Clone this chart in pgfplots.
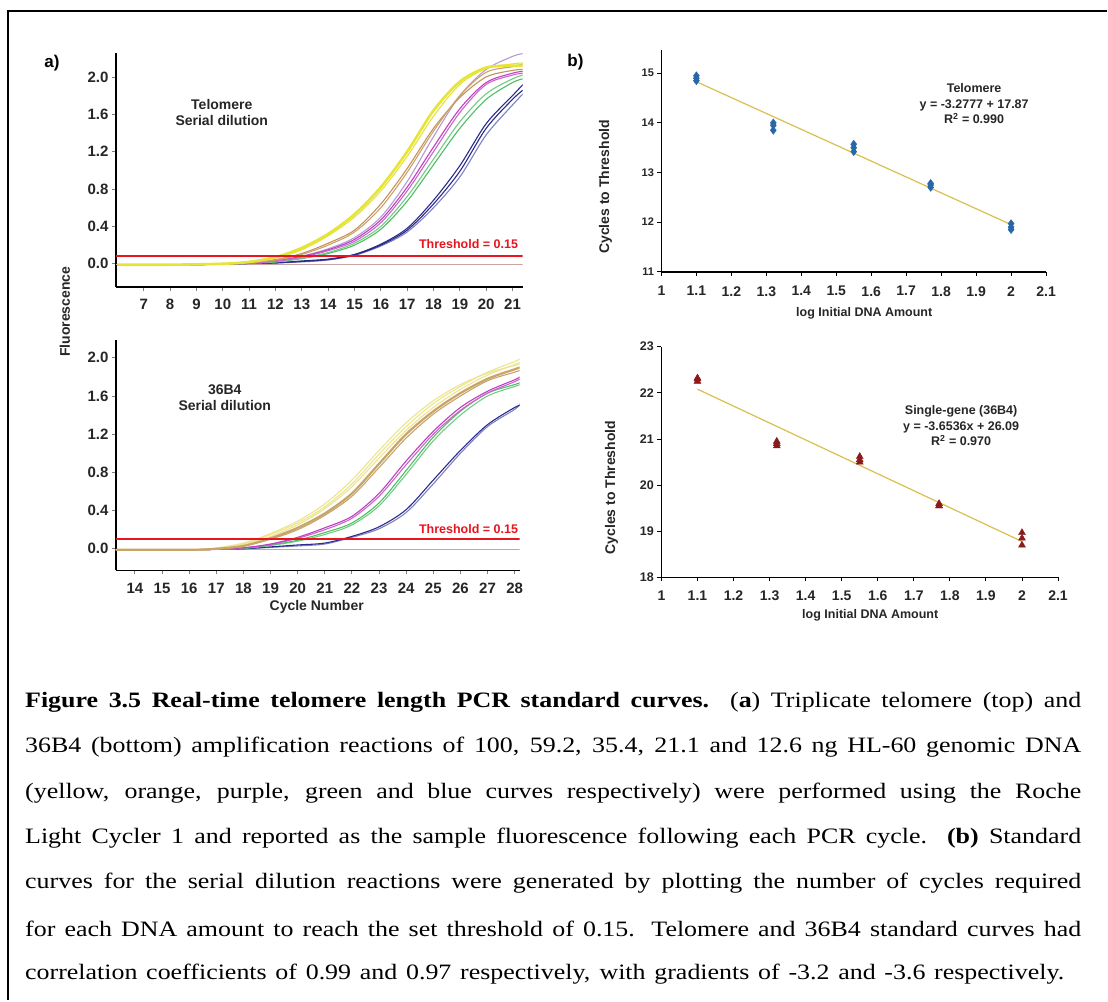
\documentclass[border=0pt]{standalone}
\usepackage{fontspec}
\setmainfont{Liberation Serif}
\newfontfamily\capfont[FakeStretch=1.18]{Liberation Serif}
\newfontfamily\arial{Liberation Sans}
\usepackage{pgfplots}
\pgfplotsset{compat=1.18}
\definecolor{ylw}{HTML}{E6E436}
\definecolor{ylwlt}{HTML}{EDE58E}
\definecolor{org}{HTML}{C8915A}
\definecolor{orglt}{HTML}{C9A468}
\definecolor{pur}{HTML}{BE3FC0}
\definecolor{lav}{HTML}{B89AD6}
\definecolor{grn}{HTML}{4DC064}
\definecolor{blu}{HTML}{2B2B8C}
\definecolor{blult}{HTML}{7F80C2}
\definecolor{thr}{HTML}{E8141E}
\definecolor{base}{HTML}{C9A3A3}
\definecolor{dia}{HTML}{2867A8}
\definecolor{tri}{HTML}{8B1A1A}
\definecolor{fit}{HTML}{D9C04E}
\pgfplotsset{
  panel/.style={
    scale only axis,
    axis lines*=left,
    axis line style={line width=1.8pt,-},
    tick align=outside,
    major tick length=4pt,
    /pgf/number format/assume math mode=true,
  },
  leftpanel/.style={
    panel,
    tick style={gray,line width=0.8pt},
    ytick={0,0.4,0.8,1.2,1.6,2.0},
    yticklabel style={/pgf/number format/.cd,fixed,fixed zerofill,precision=1},
    xticklabel style={yshift=-5pt},
    tick label style={font=\arial\bfseries\fontsize{15}{15}\selectfont, text=black!85},
  },
  rightpanel/.style={
    panel,
    tick style={black,line width=0.9pt},
    xtick={1,1.1,1.2,1.3,1.4,1.5,1.6,1.7,1.8,1.9,2,2.1},
    xmin=1, xmax=2.1,
    xticklabel style={yshift=-7pt, font=\arial\bfseries\fontsize{14}{14}\selectfont, text=black!85},
  },
  cv/.style={smooth, line width=1.1pt},
}
\tikzset{lbl/.style={font=\arial\bfseries\fontsize{14}{16}\selectfont, text=black!85, align=center},
  ann/.style={font=\arial\bfseries\fontsize{12.5}{15.5}\selectfont, text=black!85, align=center},
  captxt/.style={anchor=west, inner sep=0pt, font=\capfont\fontsize{22}{22}\selectfont}}
\begin{document}
\begin{tikzpicture}[x=1pt,y=1pt]
\fill[white] (0,0) rectangle (1108,1001);
\draw[line width=2pt] (8,0) -- (8,990) -- (1108,990);

% a) telomere amplification
\begin{axis}[leftpanel, at={(116pt,714pt)}, anchor=south west, width=407pt, height=234pt,
  xmin=5.94, xmax=21.38, ymin=-0.246, ymax=2.257, xtick={7,...,21}]
\addplot[base, line width=1pt] coordinates {(5.94,-0.01)(21.38,-0.01)};
\addplot[cv, blult] coordinates {(6,-0.01)(8,-0.01)(10,-0.005)(11,0.003)(12,0.008)(13,0.02)(14,0.04)(15,0.09)(16,0.19)(17,0.34)(18,0.6)(19,0.93)(20,1.38)(21,1.7)(21.4,1.82)};
\addplot[cv, blu] coordinates {(6,-0.01)(8,-0.01)(10,-0.005)(11,0.004)(12,0.01)(13,0.025)(14,0.045)(15,0.095)(16,0.2)(17,0.36)(18,0.64)(19,0.99)(20,1.45)(21,1.76)(21.4,1.86)};
\addplot[cv, blu] coordinates {(6,-0.01)(8,-0.01)(10,-0.005)(11,0.004)(12,0.01)(13,0.03)(14,0.05)(15,0.1)(16,0.21)(17,0.38)(18,0.68)(19,1.05)(20,1.5)(21,1.8)(21.4,1.92)};
\addplot[cv, grn] coordinates {(6,-0.01)(8,-0.01)(10,-0.005)(11,0.006)(12,0.02)(13,0.055)(14,0.11)(15,0.2)(16,0.37)(17,0.67)(18,1.06)(19,1.45)(20,1.76)(21,1.94)(21.4,1.98)};
\addplot[cv, grn!80] coordinates {(6,-0.01)(8,-0.01)(10,-0.005)(11,0.006)(12,0.02)(13,0.06)(14,0.12)(15,0.22)(16,0.4)(17,0.72)(18,1.12)(19,1.52)(20,1.82)(21,1.98)(21.4,2.02)};
\addplot[cv, lav] coordinates {(6,-0.01)(8,-0.01)(10,-0.005)(11,0.008)(12,0.03)(13,0.08)(14,0.16)(15,0.28)(16,0.5)(17,0.88)(18,1.36)(19,1.8)(20,2.08)(21,2.22)(21.4,2.25)};
\addplot[cv, pur] coordinates {(6,-0.01)(8,-0.01)(10,-0.005)(11,0.008)(12,0.03)(13,0.08)(14,0.15)(15,0.26)(16,0.47)(17,0.82)(18,1.25)(19,1.66)(20,1.94)(21,2.04)(21.4,2.06)};
\addplot[cv, pur!80] coordinates {(6,-0.01)(8,-0.01)(10,-0.005)(11,0.008)(12,0.028)(13,0.07)(14,0.14)(15,0.24)(16,0.44)(17,0.78)(18,1.2)(19,1.62)(20,1.92)(21,2.02)(21.4,2.04)};
\addplot[cv, org] coordinates {(6,-0.01)(8,-0.01)(10,0)(11,0.015)(12,0.045)(13,0.11)(14,0.22)(15,0.36)(16,0.64)(17,1.02)(18,1.45)(19,1.78)(20,2.0)(21,2.07)(21.4,2.08)};
\addplot[cv, orglt] coordinates {(6,-0.01)(8,-0.01)(10,0)(11,0.012)(12,0.04)(13,0.1)(14,0.2)(15,0.34)(16,0.6)(17,0.98)(18,1.42)(19,1.8)(20,2.05)(21,2.11)(21.4,2.14)};
\addplot[cv, ylw] coordinates {(6,-0.01)(8,-0.01)(10,0)(11,0.02)(12,0.06)(13,0.15)(14,0.3)(15,0.5)(16,0.78)(17,1.15)(18,1.58)(19,1.92)(20,2.09)(21,2.14)(21.4,2.15)};
\addplot[cv, ylw, line width=2.6pt] coordinates {(6,-0.01)(8,-0.01)(10,0)(11,0.02)(12,0.07)(13,0.17)(14,0.32)(15,0.53)(16,0.82)(17,1.2)(18,1.64)(19,1.95)(20,2.1)(21,2.12)(21.4,2.12)};
\addplot[thr, line width=2pt] coordinates {(5.94,0.086)(21.38,0.086)};
\end{axis}

% a) 36B4 amplification
\begin{axis}[leftpanel, at={(116pt,430pt)}, anchor=south west, width=404pt, height=231pt,
  xmin=13.3, xmax=28.18, ymin=-0.227, ymax=2.19, xtick={14,...,28}]
\addplot[base, line width=1pt] coordinates {(13.3,-0.005)(28.18,-0.005)};
\addplot[cv, blult] coordinates {(13.3,-0.01)(16,-0.01)(17,-0.005)(18,0)(19,0.015)(20,0.03)(21,0.05)(22,0.12)(23,0.21)(24,0.38)(25,0.68)(26,1.0)(27,1.28)(28,1.46)(28.2,1.52)};
\addplot[cv, blu] coordinates {(13.3,-0.01)(16,-0.01)(17,-0.005)(18,0)(19,0.02)(20,0.04)(21,0.06)(22,0.13)(23,0.23)(24,0.41)(25,0.72)(26,1.03)(27,1.3)(28,1.48)(28.2,1.5)};
\addplot[cv, grn!80] coordinates {(13.3,-0.01)(16,-0.01)(17,-0.005)(18,0.005)(19,0.035)(20,0.08)(21,0.15)(22,0.25)(23,0.45)(24,0.78)(25,1.13)(26,1.4)(27,1.6)(28,1.7)(28.2,1.72)};
\addplot[cv, grn] coordinates {(13.3,-0.01)(16,-0.01)(17,-0.005)(18,0.005)(19,0.04)(20,0.09)(21,0.17)(22,0.27)(23,0.48)(24,0.82)(25,1.17)(26,1.44)(27,1.63)(28,1.72)(28.2,1.74)};
\addplot[cv, pur!80] coordinates {(13.3,-0.01)(16,-0.01)(17,-0.005)(18,0.01)(19,0.045)(20,0.11)(21,0.2)(22,0.32)(23,0.55)(24,0.88)(25,1.2)(26,1.45)(27,1.63)(28,1.75)(28.2,1.78)};
\addplot[cv, pur] coordinates {(13.3,-0.01)(16,-0.01)(17,-0.005)(18,0.01)(19,0.05)(20,0.12)(21,0.22)(22,0.34)(23,0.58)(24,0.92)(25,1.23)(26,1.48)(27,1.65)(28,1.77)(28.2,1.8)};
\addplot[cv, ylwlt] coordinates {(13.3,-0.01)(16,-0.01)(17,0.01)(18,0.06)(19,0.16)(20,0.29)(21,0.47)(22,0.72)(23,1.03)(24,1.32)(25,1.55)(26,1.72)(27,1.84)(28,1.92)(28.2,1.94)};
\addplot[cv, ylwlt] coordinates {(13.3,-0.01)(16,-0.01)(17,0)(18,0.04)(19,0.13)(20,0.25)(21,0.42)(22,0.65)(23,0.95)(24,1.24)(25,1.48)(26,1.67)(27,1.82)(28,1.93)(28.2,1.95)};
\addplot[cv, ylwlt] coordinates {(13.3,-0.01)(16,-0.01)(17,0)(18,0.05)(19,0.15)(20,0.27)(21,0.44)(22,0.68)(23,0.99)(24,1.28)(25,1.52)(26,1.7)(27,1.85)(28,1.96)(28.2,1.99)};
\addplot[cv, orglt] coordinates {(13.3,-0.01)(16,-0.01)(17,0)(18,0.03)(19,0.1)(20,0.2)(21,0.35)(22,0.55)(23,0.85)(24,1.16)(25,1.41)(26,1.6)(27,1.76)(28,1.85)(28.2,1.87)};
\addplot[cv, orglt, line width=2.2pt] coordinates {(13.3,-0.01)(16,-0.01)(17,0)(18,0.03)(19,0.11)(20,0.22)(21,0.37)(22,0.58)(23,0.89)(24,1.2)(25,1.44)(26,1.63)(27,1.78)(28,1.88)(28.2,1.9)};
\addplot[thr, line width=2pt] coordinates {(13.3,0.10)(28.18,0.10)};
\end{axis}

% b) telomere standard curve
\begin{axis}[rightpanel, at={(662pt,729pt)}, anchor=south west, width=385pt, height=222pt,
  ymin=11, ymax=15.47, ytick={11,12,13,14,15},
  yticklabel style={font=\arial\bfseries\fontsize{11}{11}\selectfont, text=black!85}]
\addplot[only marks, mark=diamond*, mark size=4pt, dia] coordinates {
  (1.1,14.85)(1.1,14.9)(1.1,14.95)
  (1.32,13.85)(1.32,13.95)(1.32,14.0)
  (1.55,13.42)(1.55,13.5)(1.55,13.57)
  (1.77,12.7)(1.77,12.75)(1.77,12.78)
  (2.0,11.85)(2.0,11.9)(2.0,11.97)};
\addplot[fit, line width=1.2pt] coordinates {(1.1,14.83)(2.0,11.95)};
\end{axis}

% b) 36B4 standard curve
\begin{axis}[rightpanel, at={(662pt,423pt)}, anchor=south west, width=397pt, height=231pt,
  ymin=18, ymax=23, ytick={18,19,20,21,22,23},
  xticklabel style={yshift=1pt},
  yticklabel style={font=\arial\bfseries\fontsize{12.5}{12.5}\selectfont, text=black!85}]
\addplot[only marks, mark=triangle*, mark size=4pt, tri] coordinates {
  (1.1,22.25)(1.1,22.3)(1.1,22.32)
  (1.32,20.85)(1.32,20.9)(1.32,20.95)
  (1.55,20.5)(1.55,20.55)(1.55,20.62)
  (1.77,19.55)(1.77,19.6)(1.77,19.55)
  (2.0,18.7)(2.0,18.85)(2.0,18.97)};
\addplot[fit, line width=1.2pt] coordinates {(1.1,22.08)(2.0,18.78)};
\end{axis}

% panel texts
\node[font=\arial\bfseries\fontsize{17}{17}\selectfont] at (52,938) {a)};
\node[font=\arial\bfseries\fontsize{17}{17}\selectfont] at (576,939) {b)};
\node[lbl] at (222,888) {Telomere\\Serial dilution};
\node[lbl] at (225,603) {36B4\\Serial dilution};
\node[anchor=east, font=\arial\bfseries\fontsize{12.5}{12.5}\selectfont, text=thr] at (522,757) {Threshold = 0.15};
\node[anchor=east, font=\arial\bfseries\fontsize{12.5}{12.5}\selectfont, text=thr] at (522,471) {Threshold = 0.15};
\node[lbl, rotate=90] at (65,689) {Fluorescence};
\node[lbl] at (317,394) {Cycle Number};
\node[lbl, rotate=90] at (606,814) {Cycles to Threshold};
\node[lbl, rotate=90] at (612,513) {Cycles to Threshold};
\node[ann] at (865,687) {log Initial DNA Amount};
\node[ann] at (871,385) {log Initial DNA Amount};
\node[ann] at (975,897) {Telomere\\y = -3.2777 + 17.87\\R\textsuperscript{2} = 0.990};
\node[ann] at (962,575) {Single-gene (36B4)\\y = -3.6536x + 26.09\\R\textsuperscript{2} = 0.970};

% caption
\node[captxt] at (25,298) {\makebox[1057pt][s]{\textbf{Figure 3.5 Real-time telomere length PCR standard curves.} (\textbf{a}) Triplicate telomere (top) and}};
\node[captxt] at (25,253) {\makebox[1057pt][s]{36B4 (bottom) amplification reactions of 100, 59.2, 35.4, 21.1 and 12.6 ng HL-60 genomic DNA}};
\node[captxt] at (25,207) {\makebox[1057pt][s]{(yellow, orange, purple, green and blue curves respectively) were performed using the Roche}};
\node[captxt] at (25,162) {\makebox[1057pt][s]{Light Cycler 1 and reported as the sample fluorescence following each PCR cycle. \textbf{(b)} Standard}};
\node[captxt] at (25,117) {\makebox[1057pt][s]{curves for the serial dilution reactions were generated by plotting the number of cycles required}};
\node[captxt] at (25,71) {\makebox[1057pt][s]{for each DNA amount to reach the set threshold of 0.15. Telomere and 36B4 standard curves had}};
\node[captxt] at (25,26) {\makebox[1040pt][s]{correlation coefficients of 0.99 and 0.97 respectively, with gradients of -3.2 and -3.6 respectively.}};
\end{tikzpicture}
\end{document}
